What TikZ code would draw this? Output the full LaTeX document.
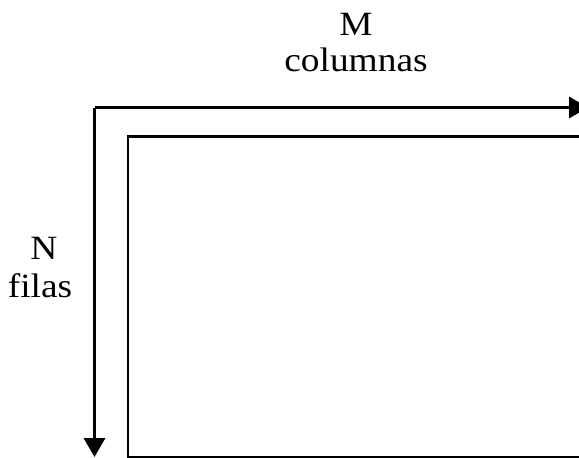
\documentclass[tikz,border=0pt]{standalone}
\usepackage{fontspec}
\setmainfont{Liberation Serif}
\usetikzlibrary{arrows.meta}
\tikzset{
  axis/.style={line width=3.5pt,-{Triangle[length=19pt,width=21pt]}},
  frame/.style={line width=2.3pt},
  lbl/.style={anchor=base,inner sep=0pt,font=\fontsize{34}{40}\selectfont,xscale=1.1,transform shape}
}
\begin{document}
\begin{tikzpicture}[x=1pt,y=-1pt]
\useasboundingbox (0,0) rectangle (579,458);
\clip (0,0) rectangle (579,458);
\coordinate (corner) at (94.5,107.5);
\coordinate (colend) at (588,107.5);
\coordinate (rowend) at (94.5,457);
\draw[axis] (corner) -- (colend);
\draw[axis] (corner) -- (rowend);
\draw[frame] (128,136.5) rectangle (600,457);
\node[lbl] (m) at (356,35) {M};
\node[lbl] (col) at (356,71) {columnas};
\node[lbl] (n) at (44,259) {N};
\node[lbl] (fil) at (40,297) {filas};
\end{tikzpicture}
\end{document}
